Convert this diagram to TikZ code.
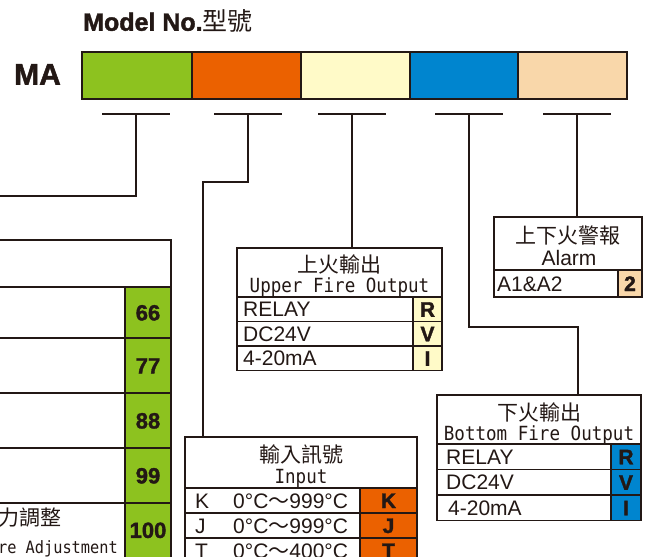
\documentclass[tikz,border=0pt]{standalone}
\usepackage{fontspec}
\setmainfont{Liberation Sans}
\newfontfamily\cjk{Noto Sans CJK TC}
\newfontfamily\cmono[FakeStretch=0.9]{DejaVu Sans Mono}
\newfontfamily\heavy[BoldFeatures={FakeBold=1.6}]{Liberation Sans}
\definecolor{ink}{HTML}{231815}
\definecolor{cgreen}{HTML}{8DC21F}
\definecolor{corange}{HTML}{EB6100}
\definecolor{cyellow}{HTML}{FFFAC8}
\definecolor{cblue}{HTML}{0085CF}
\definecolor{cpeach}{HTML}{F9D7AA}
\tikzset{
  ln/.style={draw=ink, line width=1.8pt},
  cell/.style={draw=ink, line width=1.8pt, anchor=north west, inner sep=0pt, outer sep=0pt},
  lab/.style={inner sep=0pt, text=ink, font=\fontsize{21}{21}\selectfont, text height=15pt, text depth=0pt},
  blab/.style={lab, font=\fontsize{21}{21}\selectfont\heavy\bfseries},
  num/.style={inner sep=0pt, text=ink, font=\fontsize{22}{22}\selectfont\heavy\bfseries, text height=15.8pt, text depth=0pt},
  cjklab/.style={inner sep=0pt, text=ink, font=\fontsize{21}{21}\selectfont\cjk, text height=16pt, text depth=0pt},
  monolab/.style={inner sep=0pt, text=ink, font=\fontsize{19.5}{19.5}\selectfont\cmono, text height=14pt, text depth=0pt},
}
\begin{document}
\begin{tikzpicture}[x=1pt,y=-1pt]
\clip (0,0) rectangle (651,557);
\fill[white] (0,0) rectangle (651,557);

% title
\node[inner sep=0pt, anchor=west, text=ink, font=\fontsize{25}{25}\selectfont, text height=17.5pt, text depth=0pt] (title) at (83,22) {{\heavy\bfseries Model No.}{\cjk 型號}};
\node[inner sep=0pt, text=ink, font=\fontsize{30}{30}\selectfont\heavy\bfseries, text height=21.5pt, text depth=0pt] (ma) at (37.5,74) {MA};

% bar
\node[cell, fill=cgreen, minimum width=110pt, minimum height=47pt] (s1) at (82,52) {};
\node[cell, fill=corange, minimum width=109pt, minimum height=47pt] (s2) at (192,52) {};
\node[cell, fill=cyellow, minimum width=109pt, minimum height=47pt] (s3) at (301,52) {};
\node[cell, fill=cblue, minimum width=108pt, minimum height=47pt] (s4) at (410,52) {};
\node[cell, fill=cpeach, minimum width=109pt, minimum height=47pt] (s5) at (518,52) {};

% ticks
\coordinate (t1) at (136,114);
\coordinate (t2) at (248,114);
\coordinate (t3) at (352,114);
\coordinate (t4) at (469,114);
\coordinate (t5) at (577,114);
\foreach \t in {t1,t2,t3,t4,t5}{\draw[ln] ([xshift=-34pt]\t) -- ([xshift=34pt]\t);}

% ---------- left box (partly outside) ----------
\node[cell, minimum width=231pt, minimum height=47pt] (lbh) at (-60,240) {};
\node[cell, minimum width=185pt, minimum height=51pt] (lb1) at (-60,287) {};
\node[cell, fill=cgreen, minimum width=46pt, minimum height=51pt] (lc1) at (125,287) {};
\node[cell, minimum width=185pt, minimum height=55pt] (lb2) at (-60,338) {};
\node[cell, fill=cgreen, minimum width=46pt, minimum height=55pt] (lc2) at (125,338) {};
\node[cell, minimum width=185pt, minimum height=55pt] (lb3) at (-60,393) {};
\node[cell, fill=cgreen, minimum width=46pt, minimum height=55pt] (lc3) at (125,393) {};
\node[cell, minimum width=185pt, minimum height=55pt] (lb4) at (-60,448) {};
\node[cell, fill=cgreen, minimum width=46pt, minimum height=55pt] (lc4) at (125,448) {};
\node[cell, minimum width=185pt, minimum height=62pt] (lb5) at (-60,503) {};
\node[cell, fill=cgreen, minimum width=46pt, minimum height=62pt] (lc5) at (125,503) {};
\node[num] (n66) at (148,312.5) {66};
\node[num] (n77) at (148,365.5) {77};
\node[num] (n88) at (148,420.5) {88};
\node[num] (n99) at (148,475.5) {99};
\node[num] (n100) at (148,530) {100};
\node[cjklab, anchor=east] (adjc) at (62,517) {力調整};
\node[monolab, font=\fontsize{17}{17}\selectfont\cmono, text height=12pt, anchor=east] (adje) at (118,547) {re Adjustment};

% ---------- upper fire output ----------
\node[cell, minimum width=205pt, minimum height=49pt] (ufh) at (237,248) {};
\node[cell, minimum width=176pt, minimum height=24.5pt] (uf1) at (237,297) {};
\node[cell, fill=cyellow, minimum width=29pt, minimum height=24.5pt] (ufc1) at (413,297) {};
\node[cell, minimum width=176pt, minimum height=24.5pt] (uf2) at (237,321.5) {};
\node[cell, fill=cyellow, minimum width=29pt, minimum height=24.5pt] (ufc2) at (413,321.5) {};
\node[cell, minimum width=176pt, minimum height=24.5pt] (uf3) at (237,346) {};
\node[cell, fill=cyellow, minimum width=29pt, minimum height=24.5pt] (ufc3) at (413,346) {};
\node[cjklab] (uft1) at (339.5,264) {上火輸出};
\node[monolab] (uft2) at (339.5,285) {Upper Fire Output};
\node[lab, anchor=west] (ufr1) at (243,309.25) {RELAY};
\node[lab, anchor=west] (ufr2) at (243,333.75) {DC24V};
\node[lab, anchor=west] (ufr3) at (243,358.25) {4-20mA};
\node[blab] at (ufc1.center) {R};
\node[blab] at (ufc2.center) {V};
\node[blab] at (ufc3.center) {I};

% ---------- alarm ----------
\node[cell, minimum width=148pt, minimum height=53pt] (alh) at (494,217) {};
\node[cell, minimum width=124pt, minimum height=27pt] (al1) at (494,270) {};
\node[cell, fill=cpeach, minimum width=24pt, minimum height=27pt] (alc1) at (618,270) {};
\node[cjklab] (alt1) at (568,235) {上下火警報};
\node[lab, font=\fontsize{21}{21}\selectfont, text height=15pt] (alt2) at (569,258) {Alarm};
\node[lab, anchor=west] (alr1) at (497,283.5) {A1\&A2};
\node[blab] at (alc1.center) {2};

% ---------- bottom fire output ----------
\node[cell, minimum width=204pt, minimum height=49pt] (bfh) at (437,395) {};
\node[cell, minimum width=174pt, minimum height=25.5pt] (bf1) at (437,444) {};
\node[cell, fill=cblue, minimum width=30pt, minimum height=25.5pt] (bfc1) at (611,444) {};
\node[cell, minimum width=174pt, minimum height=25.5pt] (bf2) at (437,469.5) {};
\node[cell, fill=cblue, minimum width=30pt, minimum height=25.5pt] (bfc2) at (611,469.5) {};
\node[cell, minimum width=174pt, minimum height=25.5pt] (bf3) at (437,495) {};
\node[cell, fill=cblue, minimum width=30pt, minimum height=25.5pt] (bfc3) at (611,495) {};
\node[cjklab] (bft1) at (539,412) {下火輸出};
\node[monolab] (bft2) at (539,433) {Bottom Fire Output};
\node[lab, anchor=west] (bfr1) at (446,456.75) {RELAY};
\node[lab, anchor=west] (bfr2) at (446,482.25) {DC24V};
\node[lab, anchor=west] (bfr3) at (448,507.75) {4-20mA};
\node[blab] at (bfc1.center) {R};
\node[blab] at (bfc2.center) {V};
\node[blab] at (bfc3.center) {I};

% ---------- input ----------
\node[cell, minimum width=232pt, minimum height=51pt] (inh) at (185,437) {};
\node[cell, minimum width=175pt, minimum height=25pt] (in1) at (185,488) {};
\node[cell, fill=corange, minimum width=57pt, minimum height=25pt] (inc1) at (360,488) {};
\node[cell, minimum width=175pt, minimum height=25pt] (in2) at (185,513) {};
\node[cell, fill=corange, minimum width=57pt, minimum height=25pt] (inc2) at (360,513) {};
\node[cell, minimum width=175pt, minimum height=25pt] (in3) at (185,538) {};
\node[cell, fill=corange, minimum width=57pt, minimum height=25pt] (inc3) at (360,538) {};
\node[cjklab] (int1) at (301,454) {輸入訊號};
\node[monolab] (int2) at (301,476) {Input};
\node[lab, anchor=west] (ink1) at (195,500.5) {K};
\node[lab, anchor=west] (inr1) at (233,500.5) {0°C{\cjk ～}999°C};
\node[lab, anchor=west] (ink2) at (195,525.5) {J};
\node[lab, anchor=west] (inr2) at (233,525.5) {0°C{\cjk ～}999°C};
\node[lab, anchor=west] (ink3) at (195,550.5) {T};
\node[lab, anchor=west] (inr3) at (233,550.5) {0°C{\cjk ～}400°C};
\node[blab] at (inc1.center) {K};
\node[blab] at (inc2.center) {J};
\node[blab] at (inc3.center) {T};

% ---------- connectors ----------
\coordinate (e1) at (-5,196);
\coordinate (inTop) at (203,437);
\coordinate (ufTop) at (352,248);
\coordinate (bfTop) at (578,395);
\coordinate (alTop) at (577,217);
\draw[ln] (t1) |- (e1);
\draw[ln] (t2) -- (248,182) -| (inTop);
\draw[ln] (t3) -- (ufTop);
\draw[ln] (t4) -- (469,327) -| (bfTop);
\draw[ln] (t5) -- (alTop);
\end{tikzpicture}
\end{document}
